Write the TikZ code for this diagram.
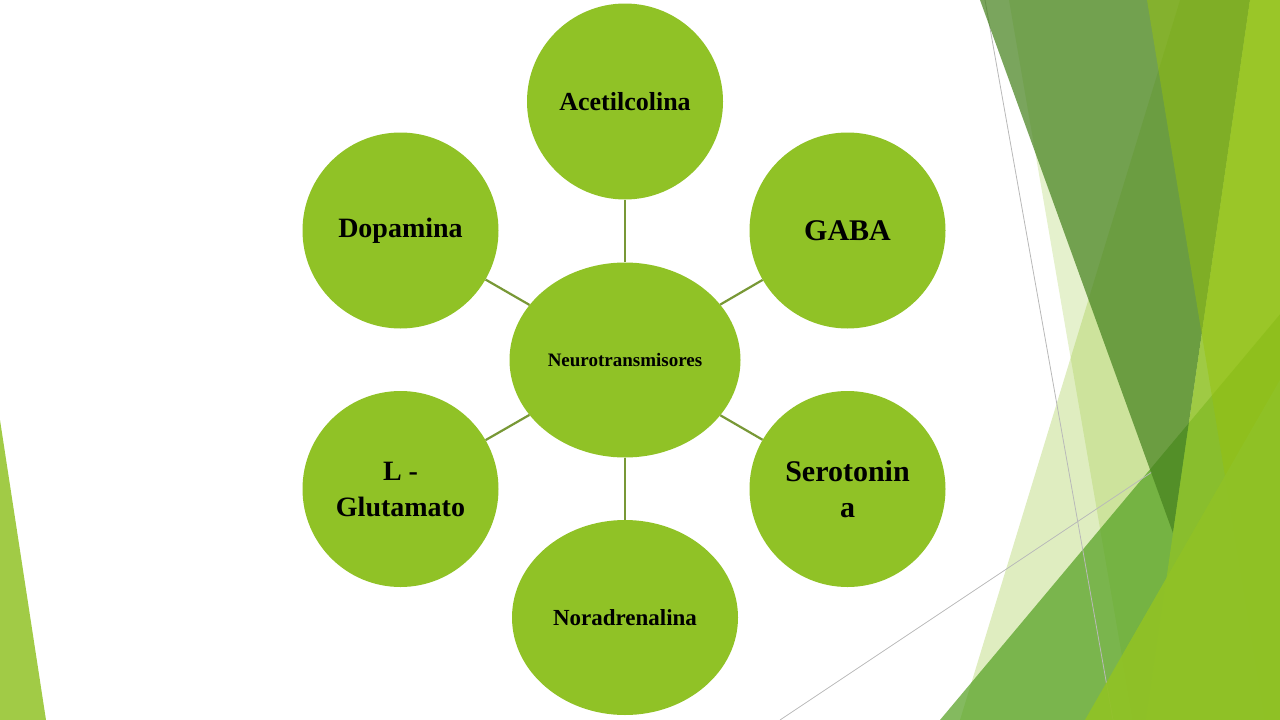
\documentclass[tikz,border=0pt]{standalone}
\usepackage{fontspec}
\setmainfont{Liberation Serif}
\usepackage{xcolor}
\usetikzlibrary{shapes.geometric,positioning}

\definecolor{leaf}{RGB}{144,194,38}
\definecolor{moss}{RGB}{84,160,33}
\definecolor{forest}{RGB}{70,130,30}
\definecolor{olive}{RGB}{150,194,14}
\definecolor{link}{RGB}{120,152,54}
\definecolor{hairline}{RGB}{185,185,185}

\begin{document}
\begin{tikzpicture}[x=1pt, y=-1pt,
    neuro/.style={circle, fill=leaf, minimum size=196pt, inner sep=0pt, align=center,
        font=\bfseries\fontsize{#1}{36}\selectfont},
    spoke/.style={link, line width=2.2pt}]
    \useasboundingbox (0,0) rectangle (1280,720);
    \clip (0,0) rectangle (1280,720);

    % Background facets
    \fill[leaf, opacity=0.85] (0,420) -- (46,720) -- (0,720) -- cycle;
    \fill[leaf, opacity=0.23] (1009,0) -- (1280,0) -- (1280,720) -- (1133,720) -- cycle;
    \fill[leaf, opacity=0.29] (1180,0) -- (1280,0) -- (1280,720) -- (960,720) -- cycle;
    \fill[moss, opacity=0.72] (940,720) -- (1292,300) -- (1292,720) -- cycle;
    \draw[hairline, line width=0.8pt] (985,0) -- (1113,720);
    \draw[hairline, line width=0.8pt] (780,720) -- (1152,472);
    \fill[forest, opacity=0.72] (980,0) -- (1250,0) -- (1173,533) -- cycle; % dark facet
    \fill[leaf, opacity=0.75] (1250,0) -- (1280,0) -- (1280,720) -- (1146,720) -- cycle;
    \fill[olive, opacity=0.5] (1147,0) -- (1280,0) -- (1280,720) -- (1265,720) -- cycle;
    \fill[leaf, opacity=0.95] (1280,380) -- (1280,720) -- (1085,720) -- cycle;

    % Hub
    \node[ellipse, fill=leaf, minimum width=231pt, minimum height=195pt, inner sep=0pt,
        font=\bfseries\fontsize{19}{22}\selectfont] (hub) at (625,360) {Neurotransmisores};

    % Outer circles
    \node[neuro=26] (acetil) at (625,101.5) {Acetilcolina};
    \node[neuro=30] (gaba) at (847.5,230.5) {GABA};
    \node[neuro=30] (sero) at (847.5,489) {Serotonin\\a};
    \node[neuro=23, ellipse, minimum width=226pt, minimum height=195pt] (nora) at (625,617.5) {Noradrenalina};
    \node[neuro=28] (gluta) at (400.5,489) {L -\\Glutamato};
    \node[neuro=28] (dopa) at (400.5,230.5) {Dopamina};

    % Spokes
    \foreach \n in {acetil,gaba,sero,nora,gluta,dopa}
        \draw[spoke] (hub) -- (\n);
\end{tikzpicture}
\end{document}
